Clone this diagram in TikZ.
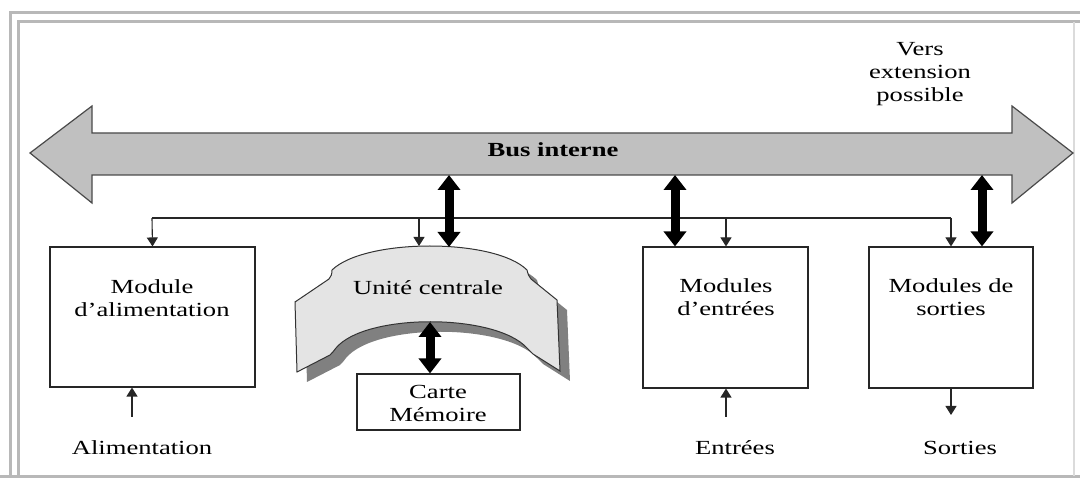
\documentclass[tikz,border=0pt]{standalone}
\usepackage{fontspec}
\setmainfont{Liberation Serif}[FakeStretch=1.33]
\usetikzlibrary{arrows.meta}
\definecolor{framegray}{HTML}{B8B8B8}
\definecolor{busgray}{HTML}{C0C0C0}
\definecolor{busline}{HTML}{4A4A4A}
\definecolor{ribbonfill}{HTML}{E4E4E4}
\definecolor{shadowgray}{HTML}{808080}
\tikzset{
  frameline/.style={draw=framegray, line width=3pt},
  modbox/.style={draw=black!85, line width=1.1pt, fill=white, inner sep=0pt},
  txt/.style={font=\fontsize{20}{23}\selectfont, align=center, inner sep=0pt},
  feed/.style={draw=black!85, line width=1.1pt},
  feedarrow/.style={feed, -{Triangle[length=9pt,width=11pt]}},
  busarrow/.style={line width=9pt, black, {Triangle[length=15pt,width=22pt]}-{Triangle[length=15pt,width=22pt]}},
}
\begin{document}
\begin{tikzpicture}[x=1pt,y=-1pt]
\useasboundingbox (0,0) rectangle (1080,478);

% double grey frame
\draw[frameline] (10,478) -- (10,13) -- (1080,13);
\draw[frameline] (18,478) -- (18,22) -- (1080,22);
\draw[frameline] (0,476.5) -- (1080,476.5);
\draw[draw=framegray!50, line width=1.5pt] (1074,22) -- (1074,476);

% internal bus: double-headed block arrow
\draw[fill=busgray, draw=busline, line width=1.2pt]
  (30,153) -- (92,106) -- (92,133) -- (1012,133) -- (1012,106) -- (1073,153)
  -- (1012,203) -- (1012,175) -- (92,175) -- (92,203) -- cycle;
\node[txt, font=\fontsize{20}{23}\selectfont\bfseries] (bus) at (553,150) {Bus interne};
\coordinate (busA) at (449,175);
\coordinate (busB) at (675,175);
\coordinate (busC) at (982,175);

\node[txt] (ext) at (920,74) {Vers\\extension\\possible};

% modules
\node[modbox, minimum width=205pt, minimum height=140pt] (alim) at (152.5,317) {};
\node[txt] (alimlbl) at (152,298) {Module\\d’alimentation};
\node[modbox, minimum width=165pt, minimum height=141pt] (ent) at (725.5,317.5) {};
\node[txt] (entlbl) at (726,297) {Modules\\d’entrées};
\node[modbox, minimum width=164pt, minimum height=141pt] (sor) at (951,317.5) {};
\node[txt] (sorlbl) at (951,297) {Modules de\\sorties};
\node[modbox, minimum width=163pt, minimum height=56pt] (mem) at (438.5,402) {};
\node[txt] (memlbl) at (438,403) {Carte\\Mémoire};

% central unit: curved ribbon with drop shadow
\def\ribbonpath{
  (332,270) .. controls (365,238) and (495,238) .. (527,270)
  .. controls (528,274) and (529,277) .. (531,279)
  -- (557,300) -- (560,371) -- (533,354)
  .. controls (531,352) and (529,350) .. (527,348)
  .. controls (495,313) and (365,313) .. (336,348)
  .. controls (334,351) and (332,353) .. (330,355)
  -- (297,372) -- (295,302) -- (329,279)
  .. controls (331,277) and (332,274) .. (332,270) -- cycle}
\fill[shadowgray, shift={(10pt,-10pt)}] \ribbonpath;
\draw[fill=ribbonfill, draw=black!80, line width=1pt] \ribbonpath;
\node[txt] (cpu) at (428,288) {Unité centrale};
\coordinate (cpuTop) at (449,247);
\coordinate (cpuIn) at (430,322);
\coordinate (cpuFeed) at (419,246);

% distribution line from the power supply
\coordinate (fL) at (152,218);
\coordinate (fR) at (951,218);
\draw[feed] (fL) -- (fR);
\draw[feedarrow] (fL) -- (alim.north);
\draw[feedarrow] (419,218) -- (cpuFeed);
\draw[feedarrow] (726,218) -- (ent.north -| 726,0);
\draw[feedarrow] (fR) -- (sor.north -| 951,0);

% bus links
\draw[busarrow] (busA) -- (cpuTop);
\draw[busarrow] (busB) -- (ent.north -| busB);
\draw[busarrow] (busC) -- (sor.north -| busC);
\draw[busarrow] (cpuIn) -- (mem.north -| cpuIn);

% external connections
\node[txt] (alimin) at (142,448) {Alimentation};
\node[txt] (entin) at (735,448) {Entrées};
\node[txt] (sorout) at (960,448) {Sorties};
\coordinate (aIn) at (132,417);
\coordinate (eIn) at (726,417);
\coordinate (sOut) at (951,415);
\draw[feedarrow] (aIn) -- (alim.south -| aIn);
\draw[feedarrow] (eIn) -- (ent.south -| eIn);
\draw[feedarrow] (sor.south -| sOut) -- (sOut);
\end{tikzpicture}
\end{document}
